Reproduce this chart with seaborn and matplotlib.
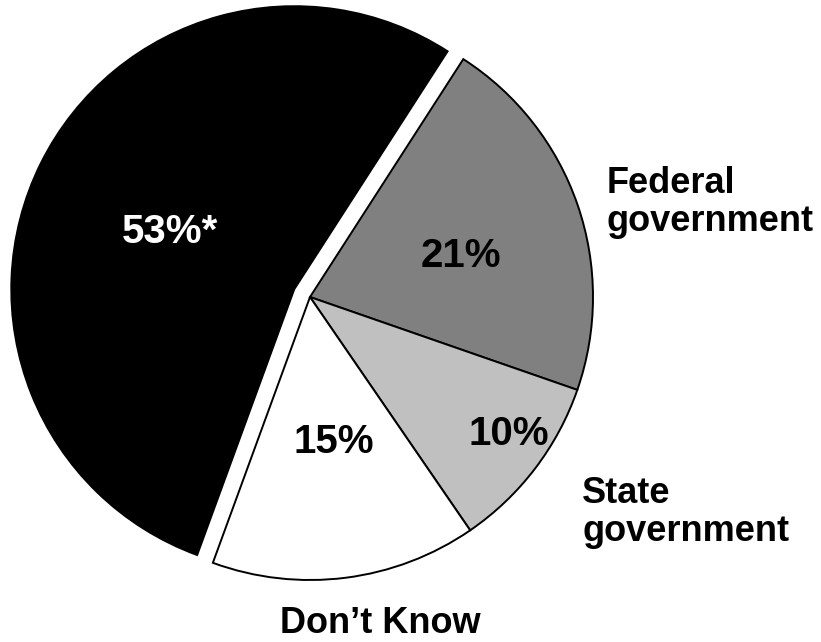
import matplotlib
matplotlib.use("Agg")
import matplotlib.pyplot as plt
import seaborn as sns

# ---- data ----
categories = ["Federal government", "State government", "Don't Know", "Other"]
values = [21, 10, 15, 53]
pct_labels = ["21%", "10%", "15%", "53%*"]
colors = ["#808080", "#c0c0c0", "#ffffff", "#000000"]

sns.set_theme(style="white")
plt.rcParams["font.family"] = ["Liberation Sans", "DejaVu Sans"]

W, H = 821, 642
fig = plt.figure(figsize=(W / 100, H / 100), dpi=100)
ax = fig.add_axes([0, 0, 1, 1])

R = 283.0
cx, cy = 310.0, 297.0
explode = [0, 0, 0, 0.062]
wedges, _ = ax.pie(values, colors=colors, startangle=57.2, counterclock=False,
                   explode=explode, radius=1.0,
                   wedgeprops=dict(edgecolor="black", linewidth=1.4))
ax.set_xlim((0 - cx) / R, (W - cx) / R)
ax.set_ylim((cy - H) / R, cy / R)
ax.set_aspect("auto")
ax.axis("off")


def ft(x, y, s, **kw):
    fig.text(x / W, 1 - y / H, s, fontweight="bold", **kw)


# percentage labels (pixel positions: centre x, baseline y)
pct_pos = [(461, 267), (509, 445), (334, 453), (170, 243)]
pct_col = ["black", "black", "black", "white"]
for (x, y), s, c in zip(pct_pos, pct_labels, pct_col):
    ft(x, y, s, ha="center", va="baseline", fontsize=29, color=c)

# category labels
ft(607, 193, "Federal", ha="left", va="baseline", fontsize=26, color="black")
ft(607, 231, "government", ha="left", va="baseline", fontsize=26, color="black")
ft(582, 503, "State", ha="left", va="baseline", fontsize=26, color="black")
ft(582, 541, "government", ha="left", va="baseline", fontsize=26, color="black")
ft(380, 633, categories[2].replace("'", "\u2019"), ha="center", va="baseline",
   fontsize=26, color="black")

fig.savefig("out.png", dpi=100, facecolor="white")
